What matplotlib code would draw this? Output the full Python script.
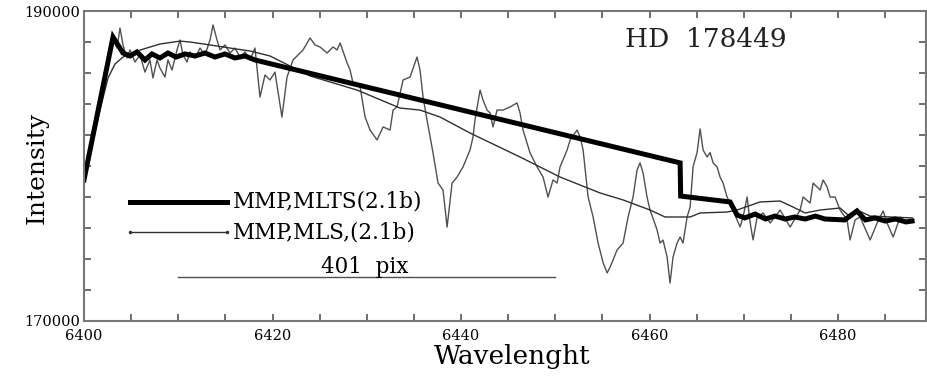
import matplotlib
matplotlib.use('Agg')
from matplotlib import pyplot as plt
from matplotlib.ticker import MultipleLocator, FixedLocator

plt.rcParams['font.family'] = 'DejaVu Serif'

spec_wave = [6400.0, 6401.17, 6402.23, 6402.76, 6403.08, 6403.50, 6403.82, 6404.14, 6404.56, 6404.88,
             6405.41, 6405.94, 6406.47, 6407.00, 6407.32, 6407.75, 6408.06, 6408.59, 6408.91, 6409.34,
             6409.87, 6410.19, 6410.51, 6410.93, 6411.25, 6411.78, 6412.31, 6412.84, 6413.37, 6413.69,
             6414.11, 6414.43, 6414.96, 6415.49, 6416.02, 6416.55, 6417.08, 6417.61, 6418.14, 6418.67,
             6419.20, 6419.73, 6420.26, 6421.00, 6421.54, 6422.18, 6423.24, 6423.98, 6424.51, 6425.04,
             6425.79, 6426.42, 6426.85, 6427.17, 6427.91, 6428.23, 6428.54, 6429.29, 6429.82, 6430.35,
             6431.09, 6431.73, 6432.47, 6432.79, 6433.21, 6433.85, 6434.59, 6435.33, 6435.65, 6435.97,
             6436.39, 6437.03, 6437.56, 6438.09, 6438.52, 6439.05, 6439.58, 6440.21, 6440.95, 6441.27,
             6441.48, 6442.02, 6442.33, 6442.76, 6443.08, 6443.39, 6443.82, 6444.46, 6445.20, 6445.94,
             6446.26, 6446.58, 6447.32, 6448.07, 6448.70, 6449.23, 6449.76, 6450.19, 6450.50, 6451.25,
             6451.57, 6452.31, 6452.63, 6452.95, 6453.48, 6454.01, 6454.54, 6455.08, 6455.50, 6455.81,
             6456.13, 6456.55, 6457.19, 6457.72, 6458.25, 6458.67, 6458.99, 6459.31, 6459.73, 6460.05,
             6460.80, 6461.11, 6461.43, 6461.86, 6462.17, 6462.49, 6462.92, 6463.24, 6463.55, 6463.98,
             6464.30, 6464.62, 6465.04, 6465.36, 6465.68, 6466.10, 6466.42, 6466.74, 6467.16, 6467.48,
             6467.80, 6468.22, 6468.54, 6468.86, 6469.28, 6469.60, 6469.92, 6470.35, 6470.67, 6470.98,
             6471.41, 6472.05, 6472.79, 6473.85, 6474.91, 6475.97, 6476.29, 6477.03, 6477.35, 6478.09,
             6478.41, 6478.83, 6479.15, 6479.68, 6480.21, 6480.95, 6481.27, 6481.80, 6482.33, 6483.40,
             6484.14, 6484.78, 6485.20, 6485.84, 6486.58, 6487.32, 6487.85]
spec_flux = [178970, 182320, 185550, 187810, 188260, 187610, 188900, 187810, 186970, 187490,
             186710, 187160, 186060, 186840, 185680, 186840, 186320, 185740, 186840, 186190,
             187490, 188130, 187160, 186710, 187360, 186970, 187610, 187160, 188130, 189100,
             188130, 187490, 187810, 187290, 187610, 187030, 187360, 186840, 187610, 184450,
             185870, 185550, 186060, 183160, 185740, 186840, 187490, 188260, 187810, 187680,
             187290, 187680, 187490, 187940, 186650, 186190, 185350, 185100, 183160, 182320,
             181680, 182520, 182320, 183610, 183810, 185550, 185740, 187030, 186190, 184450,
             182970, 180840, 178900, 178450, 176060, 178900, 179290, 179940, 181030, 181870,
             182970, 184900, 184260, 183610, 183420, 182520, 183610, 183610, 183810, 184070,
             183420, 182320, 180840, 179940, 179290, 178000, 179100, 178900, 179940, 181030,
             181680, 182320, 181870, 181030, 178000, 176710, 175030, 173740, 173100, 173480,
             173940, 174580, 175030, 176710, 178000, 179740, 180200, 179550, 178000, 177160,
             175870, 175030, 175220, 174130, 172450, 174130, 175030, 175420, 175030, 176710,
             177350, 179970, 180870, 182390, 181030, 180580, 180870, 180200, 179940, 179290,
             178900, 178000, 177610, 177160, 176520, 176070, 176710, 178000, 176320, 175230,
             176710, 176970, 176320, 177160, 176060, 177160, 178000, 177610, 178900, 178450,
             179100, 178650, 178000, 178000, 177160, 176520, 175230, 176520, 176710, 175230,
             176320, 177100, 176320, 175420, 176710, 176320, 176520]

# MMP, MLTS (2.1b) - thick line
mlts_wave = [6400.0, 6403.08, 6404.14, 6404.88, 6405.62, 6406.47, 6407.21, 6408.06, 6408.91, 6409.76,
             6410.72, 6411.78, 6412.84, 6413.90, 6414.96, 6416.02, 6417.08, 6418.14, 6463.24, 6463.30,
             6468.54, 6469.28, 6470.10, 6471.20, 6472.30, 6473.30, 6474.40, 6475.40, 6476.50, 6477.60,
             6478.60, 6480.70, 6482.00, 6482.90, 6483.90, 6485.00, 6486.10, 6487.20, 6487.85]
mlts_flux = [179100, 188320, 187290, 187100, 187360, 186840, 187230, 186970, 187290, 187030,
             187230, 187100, 187290, 187030, 187230, 186970, 187100, 186840, 180200, 178060,
             177680, 176840, 176650, 176900, 176580, 176770, 176580, 176710, 176580, 176770,
             176580, 176520, 177100, 176520, 176650, 176450, 176580, 176390, 176450]

# MMP, MLS (2.1b) - thin smooth line
mls_wave = [6400.0, 6401.70, 6402.55, 6403.29, 6404.14, 6405.94, 6408.06, 6410.19, 6411.25, 6413.37,
            6415.49, 6417.61, 6419.73, 6421.86, 6423.98, 6428.97, 6433.53, 6435.65, 6437.77, 6440.95,
            6446.26, 6450.50, 6454.75, 6457.19, 6460.05, 6461.64, 6464.30, 6465.36, 6468.22, 6469.28,
            6471.72, 6473.85, 6475.23, 6476.50, 6478.09, 6480.21, 6481.06, 6482.02, 6483.40, 6487.85]
mls_flux = [179100, 183610, 185680, 186580, 187030, 187480, 187870, 188060, 188000, 187810,
            187610, 187420, 187100, 186450, 185810, 184900, 183740, 183610, 183160, 182130,
            180580, 179290, 178260, 177810, 177160, 176710, 176710, 176970, 177030, 177160,
            177680, 177740, 177350, 176970, 177160, 177290, 176840, 177160, 176770, 176650]

scale_bar = [6410, 6450]   # 401 pix

fig = plt.figure(figsize=(9.28, 3.76), dpi=100)
ax = fig.add_axes([0.0905, 0.1463, 0.9075, 0.8244])

ax.plot(spec_wave, spec_flux, color='#505050', lw=1.0)
ax.plot(mls_wave, mls_flux, color='#303030', lw=1.0)
ax.plot(mlts_wave, mlts_flux, color='black', lw=3.6, solid_joinstyle='miter')

# hand-drawn legend and scale bar
ax.plot([6404.9, 6415.2], [177680, 177680], color='black', lw=3.6)
ax.text(6415.8, 177680, 'MMP,MLTS(2.1b)', fontsize=15.5, va='center', ha='left')
ax.plot([6404.9, 6415.2], [175740, 175740], color='#303030', lw=1.0, marker='.', ms=3)
ax.text(6415.8, 175740, 'MMP,MLS,(2.1b)', fontsize=15.5, va='center', ha='left')
ax.plot(scale_bar, [172840, 172840], color='#505050', lw=1.0)
ax.text(6429.8, 173500, '401  pix', fontsize=15.5, va='center', ha='center')

ax.text(6457.4, 188180, 'HD  178449', fontsize=19, va='center', ha='left', color='#222222')

ax.set_xlim(6400, 6489.34)
ax.set_ylim(170000, 190000)
ax.xaxis.set_major_locator(FixedLocator([6400, 6420, 6440, 6460, 6480]))
ax.xaxis.set_minor_locator(MultipleLocator(5))
ax.yaxis.set_major_locator(FixedLocator([170000, 190000]))
ax.yaxis.set_minor_locator(MultipleLocator(2000))
ax.tick_params(which='both', direction='in', top=True, right=True, length=5,
               width=1.2, color='#555555', labelsize=10.5)
ax.tick_params(axis='x', pad=6)
ax.tick_params(axis='y', pad=3)
for s in ax.spines.values():
    s.set_color('#777777')
    s.set_linewidth(1.5)

ax.set_xlabel('Wavelenght', fontsize=19)
ax.xaxis.set_label_coords(0.508, -0.075)
fig.text(37 / 928, 1 - 168 / 376, 'Intensity', rotation=90, fontsize=18,
         ha='center', va='center')

plt.savefig('out.png', dpi=100)
